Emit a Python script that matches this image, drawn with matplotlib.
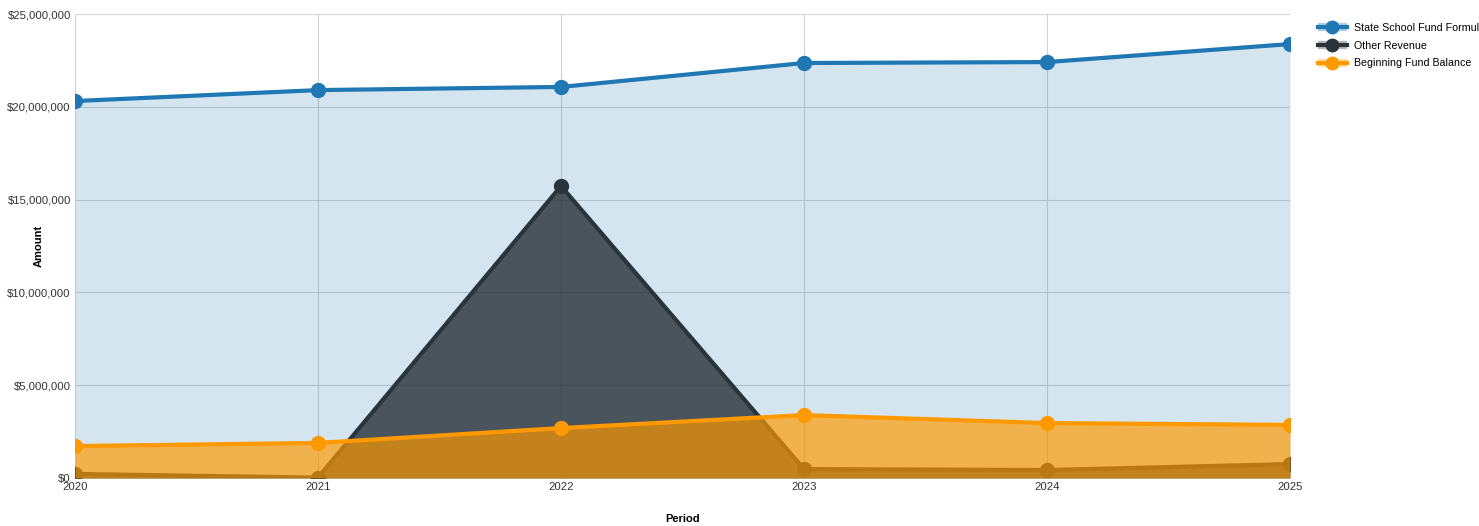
import matplotlib
matplotlib.use('Agg')
import matplotlib.pyplot as plt
from matplotlib.ticker import FuncFormatter, MultipleLocator
from matplotlib.lines import Line2D
from matplotlib.legend_handler import HandlerTuple

plt.rcParams['font.family'] = ['Liberation Sans', 'DejaVu Sans']

# data
years = [2020, 2021, 2022, 2023, 2024, 2025]
state_school = [20310000, 20900000, 21070000, 22360000, 22410000, 23380000]
other_revenue = [220000, 20000, 15730000, 480000, 430000, 750000]
beginning_balance = [1720000, 1890000, 2690000, 3390000, 2960000, 2860000]

series = [
    ('State School Fund Formula', state_school, '#1f77b4', 0.19),
    ('Other Revenue', other_revenue, '#2a343c', 0.82),
    ('Beginning Fund Balance', beginning_balance, '#ff9900', 0.68),
]

fig = plt.figure(figsize=(14.79, 5.26), dpi=100)
ax = fig.add_axes([75 / 1479, 1 - 478 / 526, (1290 - 75) / 1479, (478 - 14) / 526])

handles = []
z = 2
for name, vals, col, a in series:
    # fill then line per series, later ones sit on top
    ax.fill_between(years, vals, 0, color=col, alpha=a, linewidth=0, zorder=z)
    ax.plot(years, vals, color=col, linewidth=3, marker='o', markersize=10,
            zorder=z + 1)
    z += 2
    handles.append((Line2D([], [], color=col, alpha=0.35, linewidth=6,
                           solid_capstyle='butt'),
                    Line2D([], [], color=col, linewidth=3, marker='o', markersize=9)))

ax.set_xlim(2020, 2025)
ax.set_ylim(0, 25000000)
ax.yaxis.set_major_locator(MultipleLocator(5000000))
ax.yaxis.set_major_formatter(FuncFormatter(lambda v, p: '$' + format(int(v), ',')))
ax.set_xticks(years)
ax.grid(True, color='#d4d4d4', linewidth=0.8, zorder=1)
ax.set_axisbelow(True)
for s in ax.spines.values():
    s.set_visible(False)
ax.tick_params(length=0, labelsize=8.2, colors='#333333', pad=3)

ax.set_ylabel('Amount', fontsize=8, fontweight='bold')
ax.yaxis.set_label_coords((44 - 75) / 1215, 0.5)
ax.set_xlabel('Period', fontsize=8, fontweight='bold')
ax.xaxis.set_label_coords(0.5, (478 - 514) / 464)

fig.legend(handles, [s[0] for s in series], loc='upper left',
           bbox_to_anchor=(1318 / 1479, 1 - 23 / 526), frameon=False,
           borderpad=0, borderaxespad=0,
           fontsize=7.7, handlelength=2.7, handletextpad=0.7, labelspacing=0.72,
           handler_map={tuple: HandlerTuple(ndivide=1)})

fig.savefig('out.png', dpi=100)
